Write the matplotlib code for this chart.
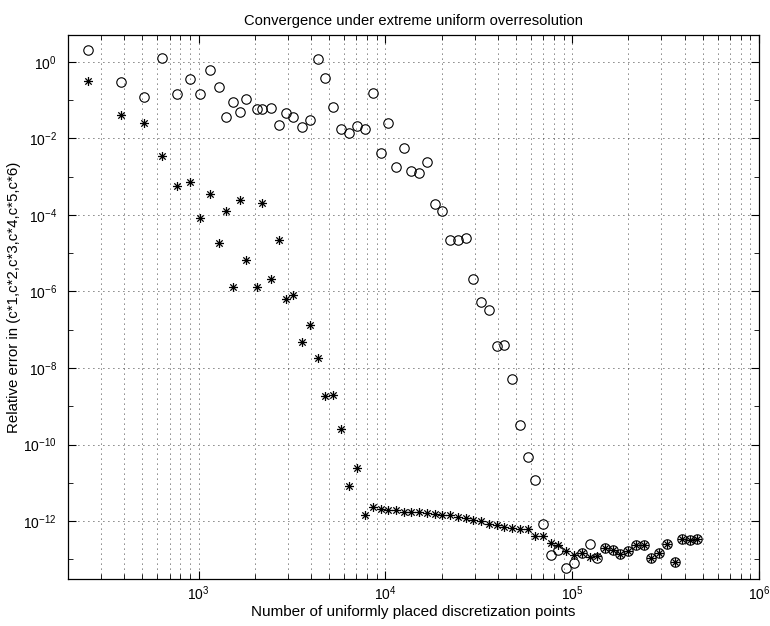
# Convergence plot: relative error vs number of discretization points (log-log)

import numpy as np
import matplotlib
matplotlib.use("Agg")
import matplotlib.pyplot as plt
from matplotlib.path import Path
from matplotlib.ticker import FixedLocator, LogLocator, NullFormatter, LogFormatterSciNotation

plt.rcParams["font.family"] = ["Liberation Sans", "DejaVu Sans"]
plt.rcParams["mathtext.fontset"] = "custom"
plt.rcParams["mathtext.rm"] = "Liberation Sans"
plt.rcParams["mathtext.it"] = "Liberation Sans:italic"

# -----------------------------
# DATA
# -----------------------------

n_points = [
    256, 384, 512, 640, 768, 896, 1024, 1152, 1280, 1408,
    1536, 1664, 1792, 2048, 2176, 2432, 2688, 2944, 3200, 3584,
    3968, 4352, 4736, 5248, 5760, 6400, 7040, 7808, 8576, 9430,
    10360, 11410, 12530, 13780, 15180, 16720, 18410, 20220, 22160, 24400,
    26920, 29610, 32590, 35840, 39470, 43290, 47710, 52410, 57830, 63600,
    69930, 76820, 84460, 92860, 102000, 112600, 124000, 136100, 149500, 164800,
    181400, 199500, 219100, 241000, 264900, 290900, 320000, 353200, 388400, 426600,
    467100,
]

# circles
err_circle = [
    1.99, 0.300, 0.118, 1.25, 0.141, 0.353, 0.141, 0.607, 0.215, 0.0366,
    0.0903, 0.0477, 0.108, 0.0572, 0.0572, 0.063, 0.0222, 0.0466, 0.0353, 0.0201,
    0.0306, 1.155, 0.369, 0.0664, 0.0172, 0.014, 0.0212, 0.0172, 0.155, 0.00406,
    0.0255, 0.00178, 0.00568, 0.00138, 0.00122, 0.0024, 1.93e-4, 1.26e-4, 2.17e-5, 2.25e-5,
    2.54e-5, 2.12e-6, 5.22e-7, 3.23e-7, 3.84e-8, 4.01e-8, 5.1e-9, 3.33e-10, 4.77e-11, 1.15e-11,
    8.15e-13, 1.29e-13, 1.71e-13, 5.92e-14, 8.24e-14, 1.51e-13, 2.55e-13, 1.09e-13, 2.01e-13, 1.78e-13,
    1.38e-13, 1.65e-13, 2.4e-13, 2.31e-13, 1.08e-13, 1.46e-13, 2.55e-13, 8.65e-14, 3.31e-13, 3.25e-13,
    3.39e-13,
]

# asterisks
err_star = [
    0.313, 0.0413, 0.0255, 3.51e-3, 5.58e-4, 7.1e-4, 8.15e-5, 3.58e-4, 1.81e-5, 1.26e-4,
    1.33e-6, 2.38e-4, 6.76e-6, 1.33e-6, 2.08e-4, 2.12e-6, 2.17e-5, 6.26e-7, 8.24e-7, 4.72e-8,
    1.36e-7, 1.87e-8, 1.81e-9, 1.99e-9, 2.62e-10, 8.35e-12, 2.51e-11, 1.46e-12, 2.32e-12, 2.06e-12,
    1.97e-12, 1.97e-12, 1.78e-12, 1.68e-12, 1.68e-12, 1.62e-12, 1.49e-12, 1.40e-12, 1.40e-12, 1.27e-12,
    1.20e-12, 1.08e-12, 1.02e-12, 8.5e-13, 8.0e-13, 7.1e-13, 6.56e-13, 6.18e-13, 6.18e-13, 4.13e-13,
    4.13e-13, 2.66e-13, 2.31e-13, 1.7e-13, 1.27e-13, 1.46e-13, 1.13e-13, 1.24e-13, 2.01e-13, 1.78e-13,
    1.38e-13, 1.65e-13, 2.4e-13, 2.31e-13, 1.08e-13, 1.46e-13, 2.55e-13, 8.65e-14, 3.31e-13, 3.25e-13,
    3.39e-13,
]

# -----------------------------
# MATLAB-style asterisk marker
# -----------------------------
d = 0.7071
star_path = Path(
    [(0, -1), (0, 1), (-1, 0), (1, 0), (-d, -d), (d, d), (-d, d), (d, -d)],
    [Path.MOVETO, Path.LINETO] * 4,
)

# -----------------------------
# PLOT
# -----------------------------
fig = plt.figure(figsize=(7.7, 6.26), dpi=100)
ax = fig.add_axes([0.0883, 0.075, 0.8974, 0.869])

ax.loglog(n_points, err_circle, linestyle="none", marker="o", markersize=6.8,
          markerfacecolor="none", markeredgecolor="black", markeredgewidth=0.8)
ax.loglog(n_points, err_star, linestyle="none", marker=star_path, markersize=6.5,
          markeredgecolor="black", markeredgewidth=0.9)

ax.set_xlim(200, 1e6)
ax.set_ylim(3.06e-14, 4.98)

# y ticks: labelled every two decades, small ticks in between
ax.yaxis.set_major_locator(FixedLocator([10.0 ** k for k in range(0, -13, -2)]))
ax.yaxis.set_minor_locator(FixedLocator([10.0 ** k for k in range(-1, -14, -2)]))
ax.yaxis.set_major_formatter(LogFormatterSciNotation())
ax.yaxis.set_minor_formatter(NullFormatter())

ax.xaxis.set_major_locator(LogLocator(base=10, numticks=10))
ax.xaxis.set_minor_locator(LogLocator(base=10, subs=np.arange(2, 10), numticks=20))
ax.xaxis.set_minor_formatter(NullFormatter())

ax.tick_params(which="both", direction="in", top=True, right=True, labelsize=10)
ax.tick_params(which="major", length=6, width=0.8)
ax.tick_params(which="minor", length=3.5, width=0.6)
ax.tick_params(axis="x", pad=4)
ax.tick_params(axis="y", pad=8)

grid_style = dict(color="black", linestyle=(0, (1, 5)), linewidth=0.6)
ax.grid(True, which="major", axis="both", **grid_style)
ax.grid(True, which="minor", axis="x", **grid_style)

for s in ax.spines.values():
    s.set_linewidth(0.9)

ax.set_title("Convergence under extreme uniform overresolution", fontsize=10.6, pad=7)
ax.set_xlabel("Number of uniformly placed discretization points", fontsize=11, labelpad=1)
ax.set_ylabel("Relative error in (c*1,c*2,c*3,c*4,c*5,c*6)", fontsize=10.8)
ax.yaxis.set_label_coords(-0.068, 0.518)

fig.savefig("out.png", dpi=100)
